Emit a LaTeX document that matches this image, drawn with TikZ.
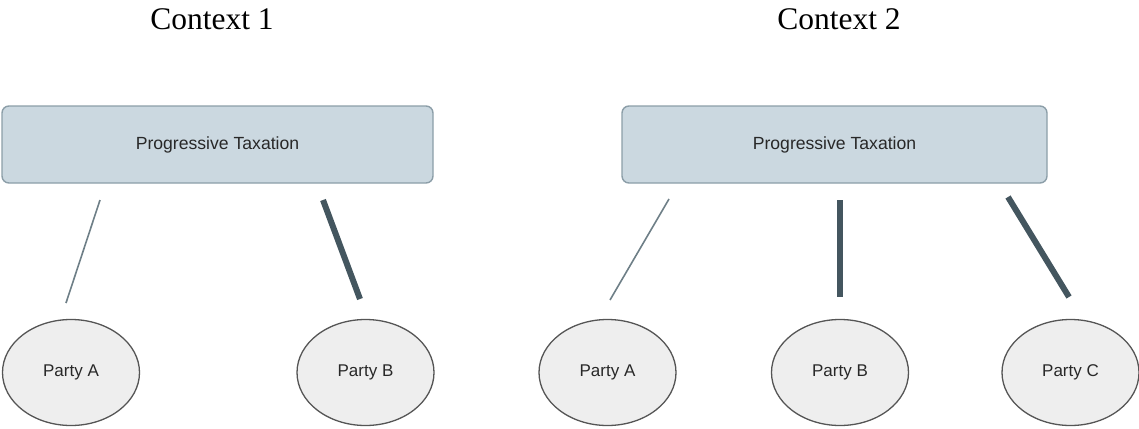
\documentclass[tikz,border=0pt]{standalone}
\usepackage{fontspec}
\setmainfont{Liberation Serif}
\newfontfamily\arialfont{Liberation Sans}
\usetikzlibrary{positioning, shapes.geometric}
\definecolor{cboxfill}{RGB}{203, 216, 224}
\definecolor{cboxline}{RGB}{140, 158, 168}
\definecolor{cparty}{RGB}{238, 238, 238}
\definecolor{cpartyline}{RGB}{85, 85, 85}
\definecolor{cweak}{RGB}{110, 127, 135}
\definecolor{cstrong}{RGB}{68, 86, 95}
\definecolor{ctext}{RGB}{40, 40, 40}
\tikzset{
  issue/.style={draw=cboxline, fill=cboxfill, line width=1.4pt, rounded corners=7pt,
                minimum height=77pt, inner sep=0pt, text=ctext,
                font=\arialfont\fontsize{17.6}{19}\selectfont},
  party/.style={draw=cpartyline, fill=cparty, ellipse, line width=1.3pt,
                minimum width=137pt, minimum height=106pt, inner sep=0pt, text=ctext,
                font=\arialfont\fontsize{17}{19}\selectfont},
  ctx/.style={font=\fontsize{31.5}{34}\selectfont, anchor=base},
  weak/.style={draw=cweak, line width=1.6pt},
  strong/.style={draw=cstrong, line width=6pt},
}

\begin{document}
\begin{tikzpicture}[x=1pt, y=-1pt]
\useasboundingbox (0,0) rectangle (1139,428);

% ---------- Context 1 ----------
\node[ctx] (ctxone) at (212,30) {Context 1};
\node[issue, minimum width=431pt] (taxone) at (217.5,144.5) {Progressive Taxation};
\node[party] (aone) at (71,372.5) {Party A};
\node[party] (bone) at (365.5,372.5) {Party B};

\coordinate (aonet) at (100,200);
\coordinate (aoneb) at (66,303);
\coordinate (bonet) at (323,200);
\coordinate (boneb) at (360,299);

\draw[weak] (aonet) -- (aoneb);
\draw[strong] (bonet) -- (boneb);

% ---------- Context 2 ----------
\node[ctx] (ctxtwo) at (839,30) {Context 2};
\node[issue, minimum width=425pt] (taxtwo) at (834.5,144.5) {Progressive Taxation};
\node[party] (atwo) at (607.5,372.5) {Party A};
\node[party] (btwo) at (840,372.5) {Party B};
\node[party] (ctwo) at (1070.5,372.5) {Party C};

\coordinate (atwot) at (669,199);
\coordinate (atwob) at (610,300);
\coordinate (btwot) at (840,200);
\coordinate (btwob) at (840,297);
\coordinate (ctwot) at (1008,197);
\coordinate (ctwob) at (1069,297);

\draw[weak] (atwot) -- (atwob);
\draw[strong] (btwot) -- (btwob);
\draw[strong] (ctwot) -- (ctwob);

\end{tikzpicture}
\end{document}
